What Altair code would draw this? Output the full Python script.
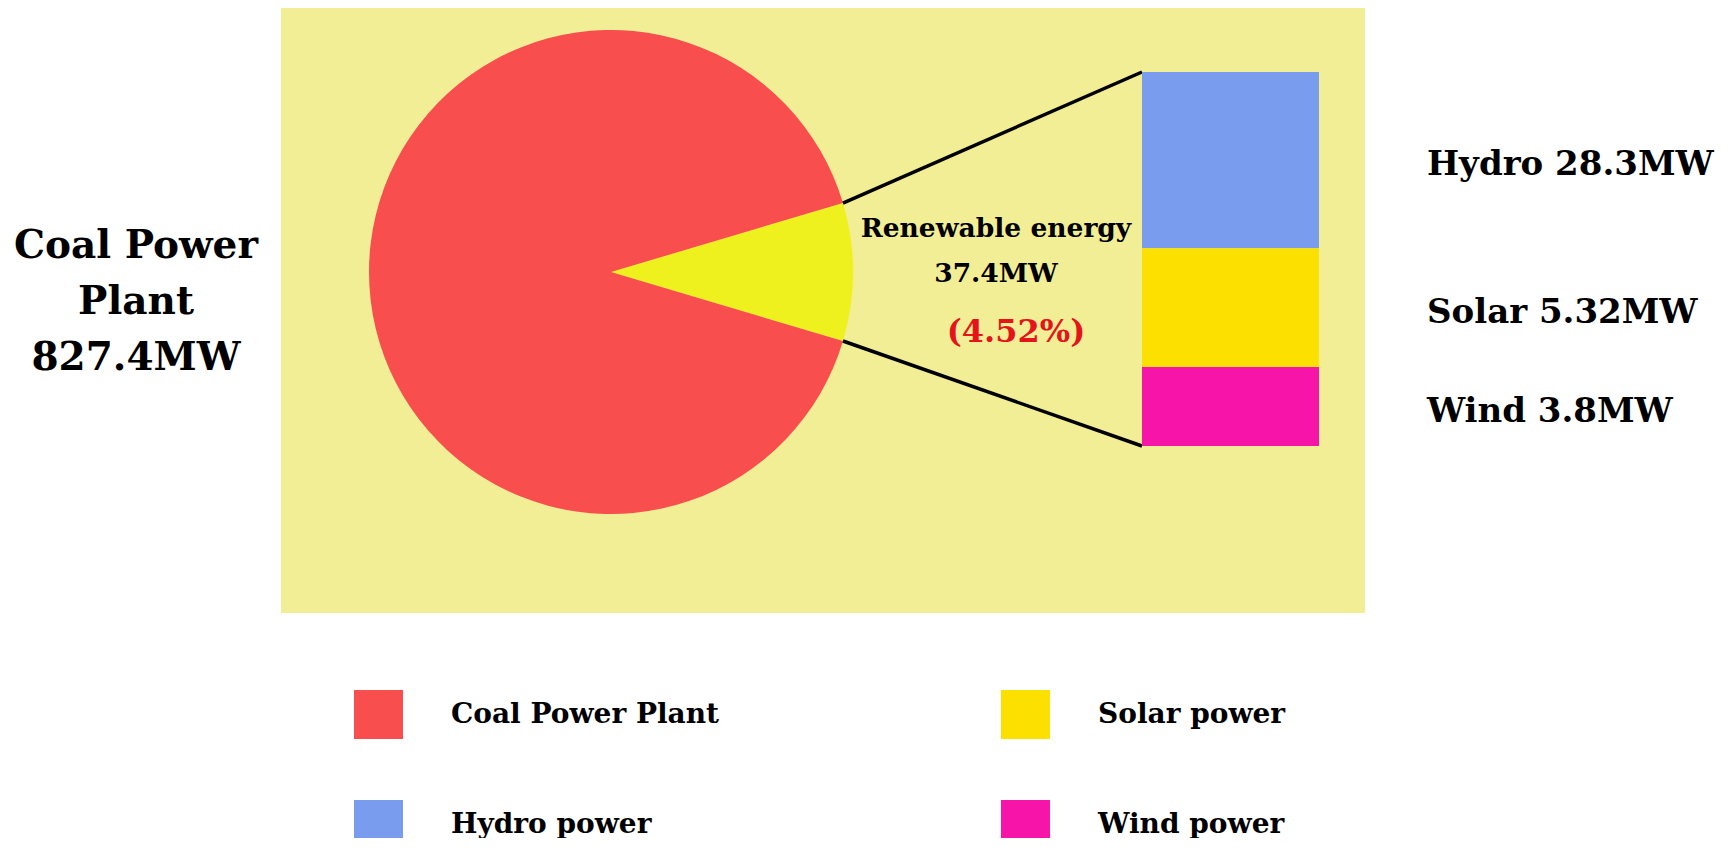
import math
import altair as alt
import pandas as pd

# ---------------- data ----------------
sources = ["Coal Power Plant", "Renewable energy"]
source_mw = [827.4, 37.4]
pie_drawn_share = [90.8, 9.2]          # slice shares as drawn in the picture (%)

renewables = ["Hydro power", "Solar power", "Wind power"]
renewable_short = ["Hydro", "Solar", "Wind"]
renewable_mw = ["28.3", "5.32", "3.8"]
bar_drawn_share = [47.1, 31.8, 21.1]   # segment heights as drawn (% of bar)

legend_order = ["Coal Power Plant", "Hydro power", "Solar power", "Wind power"]

# ---------------- styles ----------------
COAL, WEDGE = "#F94E4E", "#EEF11E"
HYDRO, SOLAR, WIND = "#7A9CEE", "#FCE000", "#F614A9"
BG = "#F2EE96"
FONT = "DejaVu Serif"

# ---------------- layout (chart pixel coordinates) ----------------
W, H = 1720, 830
PIE_CX, PIE_CY, PIE_R = 603, 264, 242
BAR_X0, BAR_X1, BAR_TOP, BAR_BOTTOM = 1134, 1311, 64, 438
BG_X0, BG_X1, BG_Y0, BG_Y1 = 273, 1357, 0, 605

# ---------------- pie ----------------
total_share = sum(pie_drawn_share)
f = pie_drawn_share[1] / total_share
theta_start = math.pi / 2 - f * math.pi
pie_df = pd.DataFrame({
    "name": [sources[1], sources[0]],
    "share": [pie_drawn_share[1], pie_drawn_share[0]],
    "ord": [0, 1],
})
pie = alt.Chart(pie_df).mark_arc(radius=PIE_R, x=PIE_CX, y=PIE_CY).encode(
    theta=alt.Theta("share:Q", stack=True,
                    scale=alt.Scale(domain=[0, total_share],
                                    range=[theta_start, theta_start + 2 * math.pi])),
    order=alt.Order("ord:Q"),
    color=alt.Color("name:N", scale=alt.Scale(domain=sources, range=[COAL, WEDGE]), legend=None),
)

# ---------------- stacked bar ----------------
bar_total = sum(bar_drawn_share)
ys = alt.Scale(domain=[0, bar_total], range=[BAR_BOTTOM, BAR_TOP])
bottom_up = list(range(len(renewables)))[::-1]  # wind at bottom, hydro on top
starts, ends = [0.0] * 3, [0.0] * 3
acc = 0.0
for i in bottom_up:
    starts[i] = acc
    acc += bar_drawn_share[i]
    ends[i] = acc
bar_df = pd.DataFrame({
    "name": renewables,
    "short": renewable_short,
    "mw": renewable_mw,
    "start": starts,
    "end": ends,
})
bar_df["mid"] = (bar_df["start"] + bar_df["end"]) / 2
bar_df["label"] = bar_df["short"] + " " + bar_df["mw"] + "MW"

bar = alt.Chart(bar_df).mark_rect().encode(
    x=alt.value(BAR_X0), x2=alt.value(BAR_X1),
    y=alt.Y("start:Q", scale=ys, axis=None), y2="end:Q",
    color=alt.Color(
        "name:N",
        sort=legend_order,
        scale=alt.Scale(domain=legend_order, range=[COAL, HYDRO, SOLAR, WIND]),
        legend=alt.Legend(
            title=None, orient="none", legendX=346, legendY=682, columns=2,
            values=legend_order,
            symbolType="square", symbolSize=2401, symbolStrokeWidth=0, symbolOpacity=1,
            labelFont=FONT, labelFontSize=28, labelFontWeight="bold", labelColor="black",
            labelLimit=0, labelOffset=48, rowPadding=61, columnPadding=281,
        ),
    ),
)

bar_labels = alt.Chart(bar_df).mark_text(
    font=FONT, fontSize=34, fontWeight="bold", color="black",
    align="left", baseline="middle", dy=5, x=1419,
).encode(
    y=alt.Y("mid:Q", scale=ys, axis=None),
    text="label:N",
)

# ---------------- connectors (from wedge edges to bar corners) ----------------
def bar_y(v):
    return BAR_BOTTOM + (BAR_TOP - BAR_BOTTOM) * v / bar_total

a_top = theta_start
a_bot = theta_start + f * 2 * math.pi
conn_df = pd.DataFrame({
    "x0": [PIE_CX + PIE_R * math.sin(a_top), PIE_CX + PIE_R * math.sin(a_bot)],
    "y0": [PIE_CY - PIE_R * math.cos(a_top), PIE_CY - PIE_R * math.cos(a_bot)],
    "x1": [BAR_X0, BAR_X0],
    "y1": [bar_y(bar_total), bar_y(0)],
})
connectors = alt.Chart(conn_df).mark_rule(color="black", strokeWidth=3.5).encode(
    x=alt.X("x0:Q", scale=None, axis=None), y=alt.Y("y0:Q", scale=None, axis=None),
    x2="x1:Q", y2="y1:Q",
)

# ---------------- background panel ----------------
bg = alt.Chart(pd.DataFrame({"k": [0]})).mark_rect(color=BG).encode(
    x=alt.value(BG_X0), x2=alt.value(BG_X1), y=alt.value(BG_Y0), y2=alt.value(BG_Y1),
)

# ---------------- text annotations ----------------
coal_text = sources[0].replace(" Plant", "\nPlant") + f"\n{source_mw[0]}MW"
renew_text = f"{sources[1]}\n{source_mw[1]}MW"
pct_text = f"({source_mw[1] / source_mw[0] * 100:.2f}%)"
txt_df = pd.DataFrame({"coal": [coal_text], "renew": [renew_text], "pct": [pct_text]})

coal_lbl = alt.Chart(txt_df).mark_text(
    font=FONT, fontSize=39, fontWeight="bold", color="black", align="center",
    baseline="alphabetic", lineBreak="\n", lineHeight=56, x=128, y=250,
).encode(text="coal:N")

renew_lbl = alt.Chart(txt_df).mark_text(
    font=FONT, fontSize=26.5, fontWeight="bold", color="black", align="center",
    baseline="alphabetic", lineBreak="\n", lineHeight=45, x=988, y=229,
).encode(text="renew:N")

pct_lbl = alt.Chart(txt_df).mark_text(
    font=FONT, fontSize=32, fontWeight="bold", color="#E5141B", align="center",
    baseline="alphabetic", x=1008, y=334,
).encode(text="pct:N")

chart = alt.layer(
    bg, pie, connectors, bar, bar_labels, coal_lbl, renew_lbl, pct_lbl
).resolve_scale(
    color="independent", x="independent", y="independent"
).properties(
    width=W, height=H, padding=0, autosize=alt.AutoSizeParams(type="none"),
).configure_view(stroke=None)

chart.save("out.html", embed_options={"renderer": "svg", "actions": False})
